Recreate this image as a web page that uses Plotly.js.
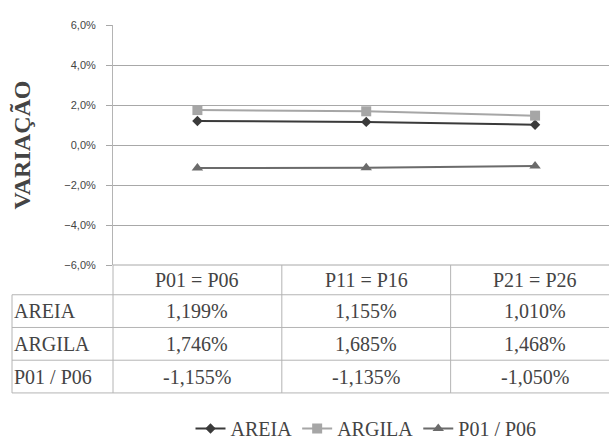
<!DOCTYPE html>
<html>
<head>
<meta charset="utf-8">
<script src="https://cdn.plot.ly/plotly-3.0.1.min.js"></script>
<style>
  html, body { margin: 0; padding: 0; background: #ffffff; }
  #chart { width: 609px; height: 448px; }
</style>
</head>
<body>
<div id="chart"></div>
<script>
// Categories (section pairs) and variation per series, as fractions
const categories = ['P01 = P06', 'P11 = P16', 'P21 = P26'];
const seriesNames = ['AREIA', 'ARGILA', 'P01 / P06'];
const areia  = [0.01199, 0.01155, 0.01010];
const argila = [0.01746, 0.01685, 0.01468];
const p01p06 = [-0.01155, -0.01135, -0.01050];

const seriesValues = [areia, argila, p01p06];
const seriesColors = ['#3a3a3a', '#a6a6a6', '#6b6b6b'];
const seriesSymbols = ['diamond', 'square', 'triangle-up'];
const seriesSizes = [8, 10, 10];

// page geometry (pixels)
const W = 609, H = 448;
const plotLeft = 113, plotTop = 25, plotBottom = 267;
const plotH = plotBottom - plotTop;
const tableLeft = 12;
const headerBottom = 297, rowH = 33;

// pixel -> paper coordinate helpers
const py = p => (plotBottom - p) / plotH;
const px = p => (p - plotLeft) / (W - plotLeft);

const serifFamily = 'Liberation Serif';
const sansFamily = 'Liberation Sans';
const lineCol = '#b4b4b4';
const gridCol = '#a8a8a8';

const fmt = v => (v * 100).toFixed(3).replace('.', ',') + '%';

const traces = seriesValues.map((vals, i) => ({
  type: 'scatter',
  mode: 'lines+markers',
  name: seriesNames[i],
  x: categories.map((_, k) => k),
  y: vals,
  line: { color: seriesColors[i], width: 2 },
  marker: { symbol: seriesSymbols[i], size: seriesSizes[i], color: seriesColors[i] }
}));

const shapes = [];
const annotations = [];
const tableBottom = headerBottom + rowH * seriesNames.length;

// table top (sits on the lowest gridline)
shapes.push({ type: 'line', xref: 'paper', yref: 'paper', x0: 0, x1: 1.02,
  y0: 0, y1: 0, line: { color: gridCol, width: 1 } });
// table horizontal rules
shapes.push({ type: 'line', xref: 'paper', yref: 'paper', x0: px(tableLeft), x1: 1.02,
  y0: py(headerBottom), y1: py(headerBottom), line: { color: lineCol, width: 1 } });
for (let r = 1; r <= seriesNames.length; r++) {
  const yy = py(headerBottom + rowH * r);
  shapes.push({ type: 'line', xref: 'paper', yref: 'paper', x0: px(tableLeft), x1: 1.02,
    y0: yy, y1: yy, line: { color: lineCol, width: 1 } });
}
// table vertical rules
shapes.push({ type: 'line', xref: 'paper', yref: 'paper', x0: px(tableLeft), x1: px(tableLeft),
  y0: py(headerBottom), y1: py(tableBottom), line: { color: lineCol, width: 1 } });
shapes.push({ type: 'line', xref: 'paper', yref: 'paper', x0: 0, x1: 0,
  y0: 0, y1: py(tableBottom), line: { color: lineCol, width: 1 } });
for (let k = 0; k < categories.length - 1; k++) {
  shapes.push({ type: 'line', xref: 'x', yref: 'paper', x0: k + 0.5, x1: k + 0.5,
    y0: 0, y1: py(tableBottom), line: { color: lineCol, width: 1 } });
}

// column headers
categories.forEach((c, k) => {
  annotations.push({ xref: 'x', yref: 'paper', x: k, y: py((plotBottom + headerBottom) / 2),
    text: c, showarrow: false, xanchor: 'center', yanchor: 'middle',
    font: { family: serifFamily, size: 20 } });
});
// rows
seriesNames.forEach((name, r) => {
  const yc = py(headerBottom + rowH * r + rowH / 2);
  annotations.push({ xref: 'paper', yref: 'paper', x: px(tableLeft), y: yc,
    text: name, showarrow: false, xanchor: 'left', yanchor: 'middle',
    font: { family: serifFamily, size: 20 } });
  seriesValues[r].forEach((v, k) => {
    annotations.push({ xref: 'x', yref: 'paper', x: k, y: yc,
      text: fmt(v), showarrow: false, xanchor: 'center', yanchor: 'middle',
      font: { family: serifFamily, size: 20 } });
  });
});

const layout = {
  width: W, height: H,
  margin: { l: plotLeft, r: 0, t: plotTop, b: H - plotBottom },
  font: { family: serifFamily },
  paper_bgcolor: '#ffffff', plot_bgcolor: '#ffffff',
  separators: ',.',
  showlegend: true,
  legend: {
    orientation: 'h', x: px(366), xanchor: 'center', y: py(432), yanchor: 'middle',
    font: { family: serifFamily, size: 20 }, itemwidth: 30, tracegroupgap: 0
  },
  xaxis: {
    range: [-0.5, 2.438], showticklabels: false, showgrid: false, zeroline: false,
    showline: false, ticks: '', fixedrange: true
  },
  yaxis: {
    range: [-0.06, 0.06], dtick: 0.02, tick0: 0, tickformat: '.1%',
    showgrid: true, gridcolor: gridCol, gridwidth: 1, zeroline: false,
    showline: true, linecolor: lineCol, linewidth: 1,
    ticks: 'outside', ticklen: 6, tickcolor: gridCol,
    ticklabelstandoff: 8,
    tickfont: { family: sansFamily, size: 11 },
    title: { text: '<b>VARIAÇÃO</b>', standoff: 26,
      font: { family: serifFamily, size: 24 } },
    automargin: false
  },
  shapes: shapes,
  annotations: annotations
};

const gd = document.getElementById('chart');
Plotly.newPlot(gd, traces, layout, { staticPlot: true });

// once the faces are available, draw the text again with their metrics
if (document.fonts && document.fonts.load) {
  Promise.all([
    document.fonts.load('20px "Liberation Serif"'),
    document.fonts.load('bold 24px "Liberation Serif"'),
    document.fonts.load('11px "Liberation Sans"')
  ]).then(() => document.fonts.ready)
    .then(() => Plotly.redraw(gd))
    .catch(() => {});
}
</script>
</body>
</html>
